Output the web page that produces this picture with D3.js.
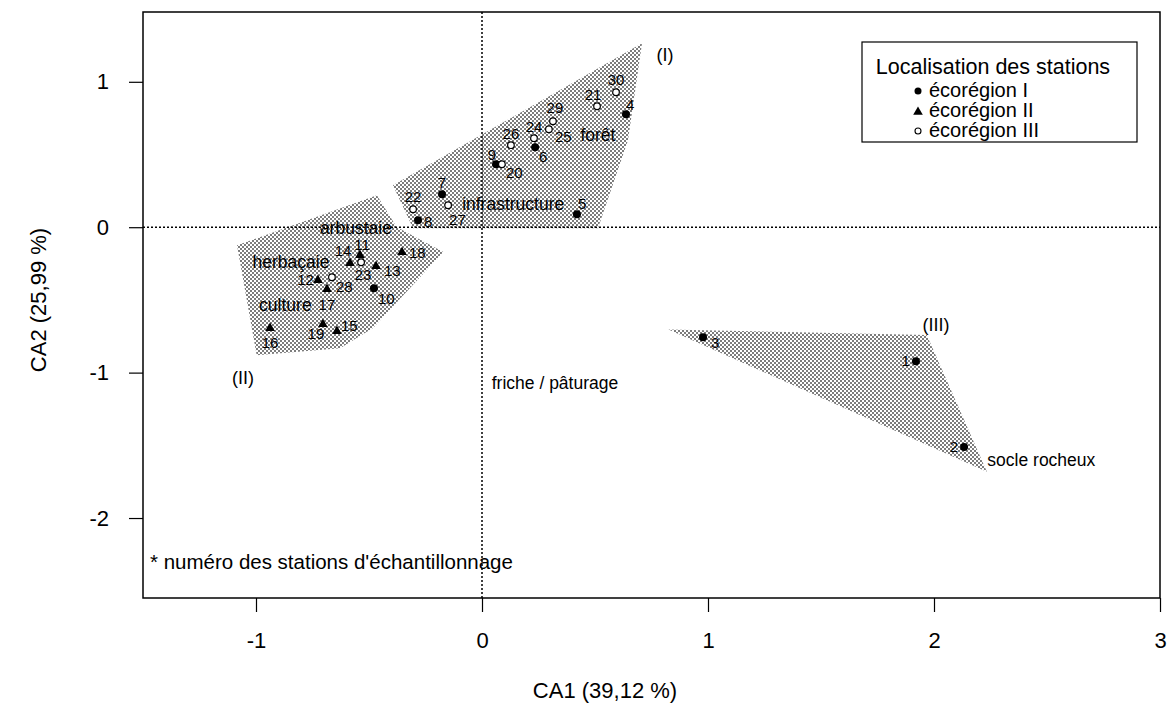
<!DOCTYPE html>
<html><head><meta charset="utf-8">
<script src="https://cdn.jsdelivr.net/npm/d3@7"></script>
<style>body{margin:0;background:#fff} text{font-family:"Liberation Sans",Arial,sans-serif;fill:#000}</style>
</head><body>
<svg id="chart" width="1172" height="708"></svg>
<script>
// ---- data ----
const stationIds = [1,2,3,4,5,6,7,8,9,10,11,12,13,14,15,16,17,18,19,20,21,22,23,24,25,26,27,28,29,30];
const ca1 = [1.920,2.133,0.978,0.637,0.420,0.235,-0.177,-0.283,0.062,-0.478,-0.540,-0.726,-0.469,-0.584,-0.642,-0.938,-0.686,-0.354,-0.704,0.088,0.509,-0.305,-0.535,0.230,0.296,0.128,-0.150,-0.664,0.314,0.593];
const ca2 = [-0.921,-1.512,-0.756,0.777,0.089,0.550,0.227,0.048,0.433,-0.419,-0.192,-0.364,-0.268,-0.247,-0.715,-0.694,-0.426,-0.172,-0.667,0.433,0.832,0.124,-0.241,0.612,0.674,0.564,0.151,-0.344,0.729,0.928];
const ecoregion = ["I","I","I","I","I","I","I","I","I","I","II","II","II","II","II","II","II","II","II","III","III","III","III","III","III","III","III","III","III","III"];
const ecoregionNames = ["I","II","III"];
const legendLabels = ["écorégion I","écorégion II","écorégion III"];
const legendTitle = "Localisation des stations";
const xTicks = [-1,0,1,2,3];
const yTicks = [-2,-1,0,1];
const xTitle = "CA1 (39,12 %)";
const yTitle = "CA2 (25,99 %)";
const noteText = "* numéro des stations d'échantillonnage";
const hullI = [[-0.394,0.289],[-0.305,-0.007],[0.513,-0.007],[0.646,0.598],[0.708,1.265]];
const hullII = [[-1.084,-0.124],[-0.465,0.220],[-0.378,0.002],[-0.171,-0.170],[-0.482,-0.694],[-0.628,-0.832],[-0.997,-0.880]];
const hullIII = [[0.825,-0.703],[1.968,-0.742],[2.234,-1.682]];
const groupNames = ["(I)","(II)","(III)"];
const groupX = [0.81,-1.058,2.009];
const groupY = [1.182,-1.038,-0.674];
const habitatNames = ["forêt","infrastructure","arbustaie","herbaçaie","culture","friche / pâturage","socle rocheux"];
const habitatX = [0.513,0.138,-0.558,-0.845,-0.870,0.323,2.475];
const habitatY = [0.632,0.158,-0.003,-0.238,-0.536,-1.072,-1.601];

// label layout offsets (px) for station numbers
const labelDx = [-6,-6,8,0,1,4,0,6,-4,4,2,-4,8,-7,4,0,0,7,-7,4,-4,0,2,0,6,0,1,4,2,0];
const labelDy = [5,5,11,-4,-5,15,-6,7,-4,16,-5,5,10,-7,0,20,21,6,15,14,-6,-7,18,-6,13,-6,20,15,-8,-7];
const labelAnchor = ["end","end","start","start","start","start","middle","start","middle","start","middle","end","start","middle","start","middle","middle","start","middle","start","middle","middle","middle","middle","start","middle","start","start","middle","middle"];

// ---- chart ----
const svg = d3.select("#chart");
const L = 143, R = 1160, T = 12, B = 598;
const x = d3.scaleLinear().domain([-1.5,3.0]).range([L,R]);
const y = d3.scaleLinear().domain([-2.55,1.48]).range([B,T]);

const defs = svg.append("defs");
const pat = defs.append("pattern").attr("id","stip").attr("patternUnits","userSpaceOnUse")
  .attr("width",4).attr("height",4);
pat.append("rect").attr("width",4).attr("height",4).attr("fill","#fff");
pat.append("rect").attr("x",0).attr("y",0).attr("width",2).attr("height",2).attr("fill","#7c7c7c");
pat.append("rect").attr("x",2).attr("y",2).attr("width",2).attr("height",2).attr("fill","#7c7c7c");

const line = d3.line().x(d=>x(d[0])).y(d=>y(d[1])).curve(d3.curveLinearClosed);
[hullI,hullII,hullIII].forEach(h=>{
  svg.append("path").attr("d",line(h)).attr("fill","url(#stip)").attr("stroke","none");
});

// zero lines
svg.append("line").attr("x1",x(-1.5)).attr("x2",x(3)).attr("y1",y(0)).attr("y2",y(0))
  .attr("stroke","#000").attr("stroke-width",1.5).attr("stroke-dasharray","2,2");
svg.append("line").attr("x1",x(0)).attr("x2",x(0)).attr("y1",T).attr("y2",B)
  .attr("stroke","#000").attr("stroke-width",1.5).attr("stroke-dasharray","2,2");

// frame
svg.append("rect").attr("x",L).attr("y",T).attr("width",R-L).attr("height",B-T)
  .attr("fill","none").attr("stroke","#000").attr("stroke-width",1.5);

// axes
const xAxis = svg.append("g").attr("transform",`translate(0,${B})`)
  .call(d3.axisBottom(x).tickValues(xTicks).tickSize(14).tickPadding(20).tickFormat(d3.format("d")));
const yAxis = svg.append("g").attr("transform",`translate(${L},0)`)
  .call(d3.axisLeft(y).tickValues(yTicks).tickSize(14).tickPadding(20).tickFormat(d3.format("d")));
[xAxis,yAxis].forEach(a=>{
  a.select(".domain").remove();
  a.selectAll(".tick line").attr("stroke","#000").attr("stroke-width",1.2);
  a.selectAll(".tick text").style("font-family","Liberation Sans, Arial, sans-serif").style("font-size","22px").attr("fill","#000");
});
xAxis.selectAll(".tick text").text(d=> d<0 ? "-"+Math.abs(d) : d);
yAxis.selectAll(".tick text").text(d=> d<0 ? "-"+Math.abs(d) : d);

svg.append("text").attr("x",605).attr("y",698).attr("text-anchor","middle")
  .style("font-size","22px").text(xTitle);
svg.append("text").attr("transform",`translate(46,300) rotate(-90)`).attr("text-anchor","middle")
  .style("font-size","22px").text(yTitle);

// habitat labels
habitatNames.forEach((n,i)=>{
  svg.append("text").attr("x",x(habitatX[i])).attr("y",y(habitatY[i])+6).attr("text-anchor","middle")
    .style("font-size","17.5px").text(n);
});
groupNames.forEach((n,i)=>{
  svg.append("text").attr("x",x(groupX[i])).attr("y",y(groupY[i])+6).attr("text-anchor","middle")
    .style("font-size","18px").text(n);
});

// points
const tri = d3.symbol().type(d3.symbolTriangle).size(40);
stationIds.forEach((id,i)=>{
  const px = x(ca1[i]), py = y(ca2[i]);
  const g = ecoregion[i];
  if (g==="I") svg.append("circle").attr("cx",px).attr("cy",py).attr("r",4).attr("fill","#000");
  else if (g==="II") svg.append("path").attr("d",tri()).attr("transform",`translate(${px},${py})`).attr("fill","#000");
  else svg.append("circle").attr("cx",px).attr("cy",py).attr("r",3.3).attr("fill","#fff").attr("stroke","#000").attr("stroke-width",1.2);
  svg.append("text").attr("x",px+labelDx[i]).attr("y",py+labelDy[i]).attr("text-anchor",labelAnchor[i])
    .style("font-size","15px").text(id);
});

// note
svg.append("text").attr("x",L+7).attr("y",B-29).style("font-size","20.5px").text(noteText);

// legend
const lg = svg.append("g");
lg.append("rect").attr("x",862).attr("y",42).attr("width",275).attr("height",100)
  .attr("fill","#fff").attr("stroke","#000").attr("stroke-width",1.2);
lg.append("text").attr("x",993).attr("y",74).attr("text-anchor","middle").style("font-size","21.5px").text(legendTitle);
ecoregionNames.forEach((g,i)=>{
  const cy = 91 + i*20;
  if (g==="I") lg.append("circle").attr("cx",918).attr("cy",cy).attr("r",3.5).attr("fill","#000");
  else if (g==="II") lg.append("path").attr("d",tri()).attr("transform",`translate(918,${cy+1})`).attr("fill","#000");
  else lg.append("circle").attr("cx",918).attr("cy",cy).attr("r",3).attr("fill","#fff").attr("stroke","#000").attr("stroke-width",1.1);
  lg.append("text").attr("x",929).attr("y",cy+6).style("font-size","20px").text(legendLabels[i]);
});
</script>
</body></html>
